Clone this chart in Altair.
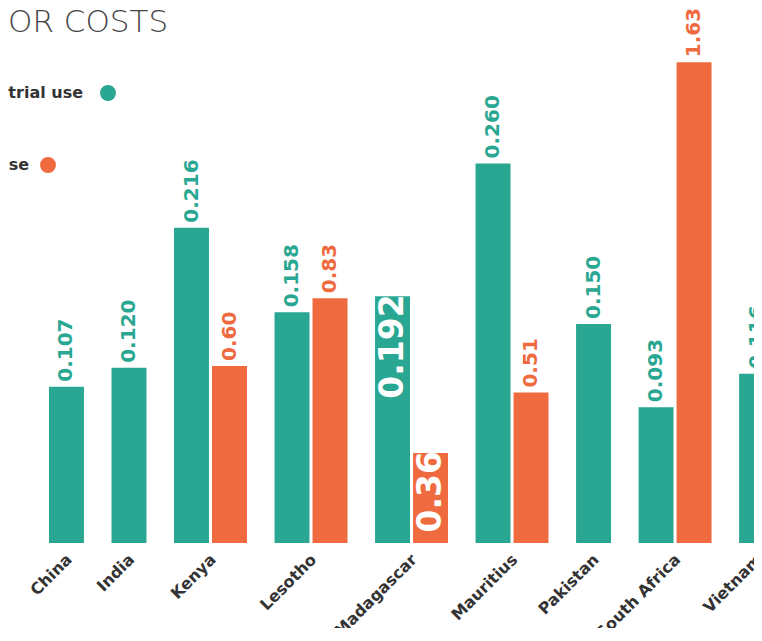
import altair as alt
import pandas as pd

# ---- data ----
countries = ["China", "India", "Kenya", "Lesotho", "Madagascar",
             "Mauritius", "Pakistan", "South Africa", "Vietnam"]
industrial_values = [0.107, 0.120, 0.216, 0.158, 0.169, 0.260, 0.150, 0.093, 0.116]
industrial_labels = ["0.107", "0.120", "0.216", "0.158", "0.192",
                     "0.260", "0.150", "0.093", "0.116"]
other_values = [None, None, 0.60, 0.83, 0.305, 0.51, None, 1.63, None]
other_labels = [None, None, "0.60", "0.83", "0.36", "0.51", None, "1.63", None]
series_keys = ["industrial", "other"]
legend_labels = ["trial use", "se"]
title_text = "OR COSTS"
colors = ["#2aa792", "#ef6a3f"]

# long table; slot = running bar number, grp = country number
rows = []
slot = 0
for g, (c, v, l, ov, ol) in enumerate(zip(countries, industrial_values, industrial_labels,
                                          other_values, other_labels)):
    rows.append({"country": c, "series": series_keys[0], "value": v, "label": l,
                 "slot": slot, "grp": g})
    slot += 1
    if ov is not None:
        rows.append({"country": c, "series": series_keys[1], "value": ov, "label": ol,
                     "slot": slot, "grp": g})
        slot += 1
df = pd.DataFrame(rows)

W, H = 746, 620
BASE = 535          # baseline position inside the plot
FONT = "DejaVu Sans"
BAR = 0.92          # bar width as share of a slot
GAP = 0.645         # extra space between countries, in slots
X_DOM = [-1.079, -1.079 + W / 38]
Y_DOM = [[-(H - BASE) / 1460, BASE / 1460], [-(H - BASE) / 295, BASE / 295]]

base = alt.Chart().transform_calculate(
    pos=f"datum.slot + datum.grp * {GAP}",
    pos2=f"datum.slot + datum.grp * {GAP} + {BAR}",
    mid=f"datum.slot + datum.grp * {GAP} + {BAR / 2}",
    zero="0",
)
xs = alt.Scale(domain=X_DOM)


def yenc(i, field="value:Q"):
    return alt.Y(field, axis=None, scale=alt.Scale(domain=Y_DOM[i]))


layers = []
for i, key in enumerate(series_keys):
    sel = alt.datum.series == key
    layers.append(
        base.transform_filter(sel).mark_bar(color=colors[i]).encode(
            x=alt.X("pos:Q", axis=None, scale=xs), x2="pos2:Q",
            y=yenc(i), y2="zero:Q")
    )
    layers.append(
        base.transform_filter(sel & (alt.datum.country != "Madagascar"))
        .mark_text(angle=270, align="left", baseline="middle", dx=5,
                   font=FONT, fontWeight="bold", fontSize=20, color=colors[i])
        .encode(x=alt.X("mid:Q", axis=None, scale=xs), y=yenc(i), text="label:N")
    )
    layers.append(
        base.transform_filter(sel & (alt.datum.country == "Madagascar"))
        .mark_text(angle=270, align="right", baseline="middle", dx=2,
                   font=FONT, fontWeight="bold", fontSize=33, color="white")
        .encode(x=alt.X("mid:Q", axis=None, scale=xs), y=yenc(i), text="label:N")
    )

# country names under each group
layers.append(
    base.transform_joinaggregate(cmid="mean(mid)", groupby=["country"])
    .transform_filter(alt.datum.series == series_keys[0])
    .mark_text(angle=315, align="right", baseline="middle", dx=-8, dy=12,
               font=FONT, fontWeight="bold", fontSize=16, color="#333333")
    .encode(x=alt.X("cmid:Q", axis=None, scale=xs), y=yenc(0, "zero:Q"),
            text="country:N")
)

# title and manual legend (label followed by dot)
first = (alt.datum.country == countries[0]) & (alt.datum.series == series_keys[0])
layers.append(
    base.transform_filter(first)
    .mark_text(align="left", baseline="top", font=FONT, fontWeight=300,
               fontSize=31, color="#454545")
    .encode(x=alt.value(0), y=alt.value(0), text=alt.value(title_text))
)
legend_pos = [(75, 100, 85), (21, 40, 157)]
for i, (tx, cx, cy) in enumerate(legend_pos):
    layers.append(
        base.transform_filter(first)
        .mark_text(align="right", baseline="middle", font=FONT, fontWeight="bold",
                   fontSize=16, color="#333333")
        .encode(x=alt.value(tx), y=alt.value(cy), text=alt.value(legend_labels[i]))
    )
    layers.append(
        base.transform_filter(first)
        .mark_circle(size=254, opacity=1, color=colors[i])
        .encode(x=alt.value(cx), y=alt.value(cy))
    )

chart = alt.layer(*layers, data=df).resolve_scale(y="independent").properties(
    width=W, height=H,
    autosize=alt.AutoSizeParams(type="none"),
    padding=0,
    background="white",
).configure_view(strokeWidth=0)

chart.save("out.html", embed_options={"renderer": "svg", "actions": False})
